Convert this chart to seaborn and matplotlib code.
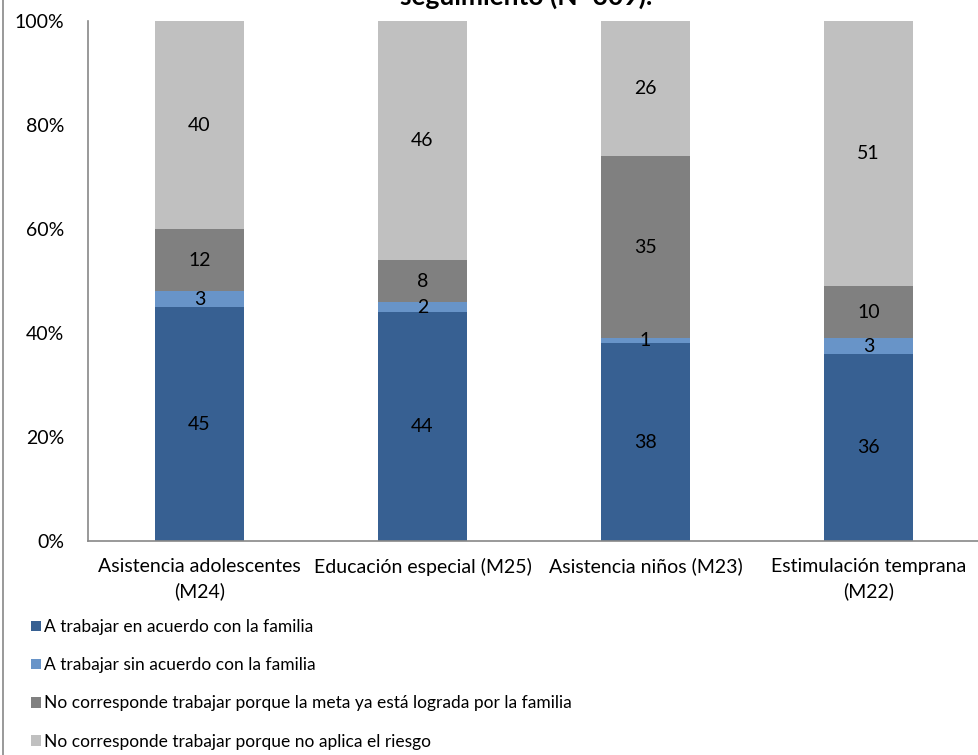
import numpy as np
import pandas as pd
import matplotlib.pyplot as plt
import seaborn as sns
from matplotlib.lines import Line2D
from matplotlib.patches import Patch

categories = ["Asistencia adolescentes\n(M24)", "Educación especial (M25)",
              "Asistencia niños (M23)", "Estimulación temprana\n(M22)"]
series = ["A trabajar en acuerdo con la familia",
          "A trabajar sin acuerdo con la familia",
          "No corresponde trabajar porque la meta ya está lograda por la familia",
          "No corresponde trabajar porque no aplica el riesgo"]
acuerdo = [45, 44, 38, 36]
sin_acuerdo = [3, 2, 1, 3]
lograda = [12, 8, 35, 10]
no_aplica = [40, 46, 26, 51]

colors = ["#376092", "#6894C8", "#808080", "#C0C0C0"]
title_text = "seguimiento (N=309)."

sns.set_style("white")
plt.rcParams['font.family'] = ['Lato', 'DejaVu Sans']
plt.rcParams['text.color'] = 'black'
plt.rcParams['xtick.color'] = 'black'
plt.rcParams['ytick.color'] = 'black'

values = np.array([acuerdo, sin_acuerdo, lograda, no_aplica], dtype=float)
cum = values.cumsum(axis=0)

fig = plt.figure(figsize=(9.79, 7.55), dpi=100)
ax = fig.add_axes([88 / 979, 1 - 541 / 755, 892 / 979, 520 / 755])

# stacked: draw cumulative totals from top segment down
for i in range(3, -1, -1):
    df = pd.DataFrame({"cat": categories, "val": cum[i]})
    sns.barplot(data=df, x="cat", y="val", color=colors[i], width=0.4,
                saturation=1, ax=ax, edgecolor="none", linewidth=0)

for i in range(4):
    for j in range(4):
        mid = cum[i, j] - values[i, j] / 2
        ax.text(j, mid, f"{int(values[i, j])}", ha="center", va="center",
                fontsize=14, color="black")

ax.set_xlim(-0.5, 3.5)
ax.set_ylim(0, 100)
ax.set_yticks([0, 20, 40, 60, 80, 100])
ax.set_yticklabels([f"{v}%" for v in [0, 20, 40, 60, 80, 100]], fontsize=14)
ax.set_xticks([0, 1, 2, 3])
ax.set_xticklabels(categories, fontsize=14, linespacing=1.5)
ax.set_xticks([-0.5, 0.5, 1.5, 2.5, 3.5], minor=True)
ax.set_xlabel("")
ax.set_ylabel("")
ax.tick_params(axis="x", which="major", length=0, pad=12)
ax.tick_params(axis="x", which="minor", length=6, color="#888888", width=1.2)
ax.tick_params(axis="y", length=7, color="#888888", width=1.2, pad=10)
for s in ["top", "right"]:
    ax.spines[s].set_visible(False)
for s in ["left", "bottom"]:
    ax.spines[s].set_color("#888888")
    ax.spines[s].set_linewidth(1.2)

# chart border on the left
fig.add_artist(Line2D([3 / 979, 3 / 979], [0, 1], color="#888888", lw=1.2,
                      transform=fig.transFigure))

# title, clipped at the top as in the original
fig.text(526 / 979, 1 - 5 / 755, title_text, ha="center", va="baseline",
         fontsize=19, fontweight="bold")

handles = [Patch(facecolor=c, edgecolor="none") for c in colors]
fig.legend(handles, series, loc="upper left", bbox_to_anchor=(31 / 979, 1 - 619 / 755),
           frameon=False, fontsize=12.5, handlelength=0.55, handleheight=0.55,
           handletextpad=0.2, labelspacing=1.28, borderpad=0, borderaxespad=0)

fig.savefig("out.png", dpi=100)
